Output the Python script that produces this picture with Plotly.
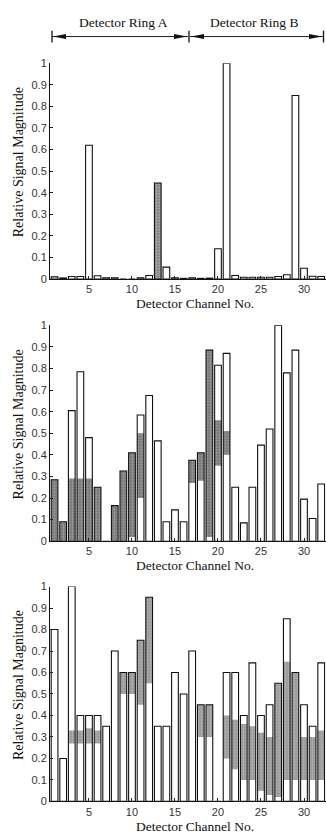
import plotly.graph_objects as go

channels = list(range(1, 33))

# Panel 1 values
p1_values = [0.01, 0.005, 0.012, 0.012, 0.62, 0.015, 0.006, 0.006, 0.0, 0.0, 0.006, 0.016,
             0.445, 0.055, 0.006, 0.003, 0.006, 0.003, 0.004, 0.14, 1.0, 0.016, 0.008, 0.008,
             0.008, 0.008, 0.012, 0.02, 0.85, 0.05, 0.013, 0.012]
p1_shade_lo = [0]*12 + [0.0] + [0]*19
p1_shade_hi = [0]*12 + [0.445] + [0]*19

# Panel 2 values
p2_values = [0.285, 0.09, 0.605, 0.785, 0.48, 0.25, 0.0, 0.165, 0.325, 0.41, 0.585, 0.675,
             0.465, 0.09, 0.145, 0.09, 0.375, 0.41, 0.885, 0.815, 0.87, 0.25, 0.085, 0.25,
             0.445, 0.52, 1.0, 0.78, 0.885, 0.195, 0.105, 0.265]
p2_shade_lo = [0.0, 0.0, 0.0, 0.0, 0.0, 0.0, 0.0, 0.0, 0.0, 0.02, 0.2, 0.0,
               0.0, 0.0, 0.0, 0.0, 0.27, 0.28, 0.02, 0.35, 0.4, 0.0, 0.0, 0.0,
               0.0, 0.0, 0.0, 0.0, 0.0, 0.0, 0.0, 0.0]
p2_shade_hi = [0.285, 0.09, 0.29, 0.29, 0.29, 0.25, 0.0, 0.165, 0.325, 0.41, 0.5, 0.0,
               0.0, 0.0, 0.0, 0.0, 0.375, 0.41, 0.885, 0.56, 0.51, 0.0, 0.0, 0.0,
               0.0, 0.0, 0.0, 0.0, 0.0, 0.0, 0.0, 0.0]

# Panel 3 values
p3_values = [0.8, 0.2, 1.0, 0.4, 0.4, 0.4, 0.35, 0.7, 0.6, 0.6, 0.75, 0.95,
             0.35, 0.35, 0.6, 0.5, 0.7, 0.45, 0.45, 0.0, 0.6, 0.6, 0.4, 0.645,
             0.4, 0.45, 0.55, 0.85, 0.6, 0.45, 0.35, 0.645]
p3_shade_lo = [0, 0, 0.27, 0.27, 0.27, 0.27, 0, 0, 0.5, 0.5, 0.45, 0.55,
               0, 0, 0, 0, 0, 0.3, 0.3, 0, 0.2, 0.15, 0.1, 0.1,
               0.05, 0.03, 0.02, 0.1, 0.1, 0.1, 0.1, 0.1]
p3_shade_hi = [0, 0, 0.33, 0.33, 0.34, 0.33, 0, 0, 0.6, 0.6, 0.75, 0.95,
               0, 0, 0, 0, 0, 0.45, 0.45, 0, 0.4, 0.38, 0.36, 0.35,
               0.32, 0.3, 0.55, 0.65, 0.6, 0.3, 0.3, 0.33]

y_ticks = [0, 0.1, 0.2, 0.3, 0.4, 0.5, 0.6, 0.7, 0.8, 0.9, 1]
y_ticklabels = ["0", "0.1", "0.2", "0.3", "0.4", "0.5", "0.6", "0.7", "0.8", "0.9", "1"]
x_ticks = [5, 10, 15, 20, 25, 30]

W, H = 326, 836
def px(x):
    return x / W
def py(y):
    return 1 - y / H

panels = [
    (p1_values, p1_shade_lo, p1_shade_hi, 58, 277, "#8a8a8a"),
    (p2_values, p2_shade_lo, p2_shade_hi, 324, 543, "#7a7a7a"),
    (p3_values, p3_shade_lo, p3_shade_hi, 589, 807, "#9a9a9a"),
]

fig = go.Figure()
serif = "Liberation Serif"
sans = "Liberation Sans"
BW = 0.78

def label(text, x, y, size, angle=0):
    fig.add_annotation(text=text, xref="paper", yref="paper", x=px(x), y=py(y),
                       xanchor="center", yanchor="middle", textangle=angle, showarrow=False,
                       font=dict(family=serif, size=size, color="#111"))

for i, (vals, lo, hi, top, bot, shade) in enumerate(panels):
    k = "" if i == 0 else str(i + 1)
    xa, ya = "x" + k, "y" + k
    fig.add_trace(go.Bar(
        x=channels, y=[h - l for h, l in zip(hi, lo)], base=lo, width=BW,
        marker=dict(color=shade, line=dict(width=0),
                    pattern=dict(shape=".", fgcolor="#d8d8d8", bgcolor=shade, size=3, solidity=0.25)),
        xaxis=xa, yaxis=ya, showlegend=False, hoverinfo="skip"))
    fig.add_trace(go.Bar(
        x=channels, y=vals, width=BW,
        marker=dict(color="rgba(0,0,0,0)", line=dict(color="#111", width=1.1)),
        xaxis=xa, yaxis=ya, showlegend=False))
    fig.layout["xaxis" + k] = dict(
        domain=[px(50), px(325.5)], range=[0.47, 32.5], anchor=ya,
        tickvals=x_ticks, ticks="inside", ticklen=3, tickcolor="#222",
        showline=True, linecolor="#111", linewidth=1, showgrid=False, zeroline=False,
        tickfont=dict(family=sans, size=11, color="#333"))
    fig.layout["yaxis" + k] = dict(
        domain=[py(bot), py(top)], range=[0, 1], anchor=xa,
        tickvals=y_ticks, ticktext=y_ticklabels, ticks="inside", ticklen=3, tickcolor="#222",
        showline=True, linecolor="#111", linewidth=1, showgrid=False, zeroline=False,
        tickfont=dict(family=sans, size=11, color="#333"))
    label("Relative Signal Magnitude", 18, (top + bot) / 2 - 9, 14, -90)
    label("Detector Channel No.", 195, bot + 25, 13.5)

# Header
label("Detector Ring A", 123, 17, 13.5)
label("Detector Ring B", 254, 17, 13.5)

shapes = []
ay = py(31)
for x0, x1 in [(52, 188), (190, 323)]:
    shapes.append(dict(type="line", xref="paper", yref="paper", x0=px(x0), x1=px(x1), y0=ay, y1=ay,
                       line=dict(color="#222", width=1)))
    shapes.append(dict(type="path", xref="paper", yref="paper",
                       path=f"M {px(x0+1)} {ay} L {px(x0+14)} {py(28.5)} L {px(x0+14)} {py(33.5)} Z",
                       fillcolor="#111", line=dict(width=0)))
    shapes.append(dict(type="path", xref="paper", yref="paper",
                       path=f"M {px(x1-1)} {ay} L {px(x1-14)} {py(28.5)} L {px(x1-14)} {py(33.5)} Z",
                       fillcolor="#111", line=dict(width=0)))
for xv in [52, 189, 323.5]:
    shapes.append(dict(type="line", xref="paper", yref="paper", x0=px(xv), x1=px(xv),
                       y0=py(25), y1=py(37), line=dict(color="#111", width=1.3)))
fig.update_layout(shapes=shapes)

fig.update_layout(width=W, height=H, margin=dict(l=0, r=0, t=0, b=0),
                  paper_bgcolor="white", plot_bgcolor="white", barmode="overlay",
                  bargap=0.2)

fig.write_html("out.html", config={"displayModeBar": False},
               post_script="document.body.style.margin='0';document.body.style.overflow='hidden';")
